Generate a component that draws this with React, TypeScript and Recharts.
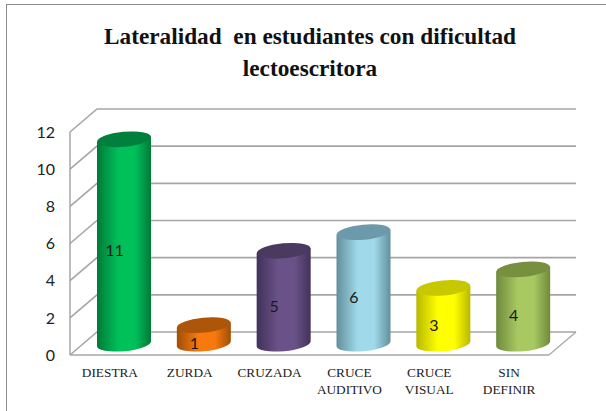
import { Bar, BarChart, CartesianGrid, LabelList, XAxis, YAxis } from 'recharts'

const CATEGORIES = ['DIESTRA', 'ZURDA', 'CRUZADA', 'CRUCE AUDITIVO', 'CRUCE VISUAL', 'SIN DEFINIR']
const VALUES = [11, 1, 5, 6, 3, 4]
const Y_TICKS = [0, 2, 4, 6, 8, 10, 12]
// edge, centre, top cap for each cylinder
const EDGE_COLORS = ['#007A38', '#A04E08', '#42325A', '#628F9C', '#B8B800', '#6E8A3C']
const MID_COLORS = ['#00C05A', '#F87A0E', '#6A5288', '#A0DAEA', '#FFFF00', '#A8C862']
const CAP_COLORS = ['#00803C', '#AD5508', '#4A3A60', '#6C9AAA', '#C8C800', '#76903F']

const rows = CATEGORIES.map((name, i) => ({ name, value: VALUES[i] }))

// the 3d depth of the walls and where the cylinders stand on the floor
const DEPTH_X = 27
const DEPTH_Y = 23
const BAR_DX = 14
const BAR_DY = -11.3
const TILT = 2.5
const WALL = '#A6A6A6'

function Cylinder({ x, y, width, height, index }: any) {
  const cx = x + BAR_DX + width / 2
  const rx = width / 2
  const ry = 7.5
  const top = y + BAR_DY
  const bottom = y + height + BAR_DY
  const left = cx - rx
  const right = cx + rx
  return (
    <g>
      <path
        d={`M${left},${top + TILT} L${left},${bottom + TILT} A${rx},${ry} -5.4 0 0 ${right},${bottom - TILT} L${right},${top - TILT} Z`}
        fill={`url(#cyl${index})`}
      />
      <ellipse cx={cx} cy={top} rx={rx} ry={ry} fill={CAP_COLORS[index]} transform={`rotate(-5.4 ${cx} ${top})`} />
    </g>
  )
}

function WallLine({ x1, y1, x2 }: any) {
  return (
    <polyline
      points={`${x1},${y1} ${x1 + DEPTH_X},${y1 - DEPTH_Y} ${x2 + DEPTH_X},${y1 - DEPTH_Y}`}
      fill="none"
      stroke={WALL}
      strokeWidth={1.6}
    />
  )
}

function FloorEdge({ x2, y1 }: any) {
  return <line x1={x2} y1={y1} x2={x2 + DEPTH_X} y2={y1 - DEPTH_Y} stroke={WALL} strokeWidth={1.2} />
}

function GridRow(props: any) {
  const isFloor = props.y1 > 350
  return (
    <g key={props.key}>
      <WallLine {...props} />
      {isFloor && <FloorEdge {...props} />}
    </g>
  )
}

function CategoryTick({ x, y, payload }: any) {
  const lines = String(payload.value).split(' ')
  return (
    <text x={x} textAnchor="middle" fontFamily="'Liberation Serif', serif" fontSize={13.3} fill="#222">
      {lines.map((line, i) => (
        <tspan key={i} x={x} y={y + 14 + i * 17}>
          {line}
        </tspan>
      ))}
    </text>
  )
}

function ValueLabel({ x, y, width, height, value }: any) {
  return (
    <text x={x + width / 2 + 4.5} y={y + height / 2 - 3} textAnchor="middle" dominantBaseline="central" fontFamily="Lato, sans-serif" fontSize={16} fill="#1a1a1a">
      {value}
    </text>
  )
}

export default function App() {
  return (
    <div style={{ position: 'absolute', left: 0, top: 0, width: 606, height: 411, background: '#fff', overflow: 'hidden' }}>
      <div style={{ position: 'absolute', left: 6, top: 4, width: 640, height: 440, border: '1.5px solid #8c8c8c' }} />
      <div
        style={{
          position: 'absolute',
          left: 0,
          top: 20,
          width: 620,
          textAlign: 'center',
          fontFamily: "'Liberation Serif', serif",
          fontWeight: 'bold',
          fontSize: 24,
          lineHeight: '32px',
          color: '#111',
          transform: 'scaleX(0.97)',
        }}
      >
        Lateralidad&nbsp; en estudiantes con dificultad
        <br />
        lectoescritora
      </div>
      <BarChart
        width={606}
        height={411}
        data={rows}
        margin={{ top: 132, right: 57, bottom: 0, left: 0 }}
        style={{ position: 'absolute', left: 0, top: 0 }}
      >
        <defs>
          {CATEGORIES.map((_, i) => (
            <linearGradient key={i} id={`cyl${i}`} x1="0" y1="0" x2="1" y2="0">
              <stop offset="0%" stopColor={EDGE_COLORS[i]} />
              <stop offset="40%" stopColor={MID_COLORS[i]} />
              <stop offset="70%" stopColor={MID_COLORS[i]} />
              <stop offset="100%" stopColor={EDGE_COLORS[i]} />
            </linearGradient>
          ))}
        </defs>
        <CartesianGrid vertical={false} horizontal={(props: any) => <GridRow {...props} />} />
        <XAxis dataKey="name" interval={0} height={56} tick={<CategoryTick />} tickLine={false} axisLine={{ stroke: WALL, strokeWidth: 1.5 }} />
        <YAxis
          width={70}
          domain={[0, 12]}
          ticks={Y_TICKS}
          interval={0}
          tickLine={false}
          tickMargin={9}
          axisLine={{ stroke: WALL, strokeWidth: 1.5 }}
          tick={{ fontFamily: 'Lato, sans-serif', fontSize: 16, fill: '#222' }}
        />
        <Bar dataKey="value" barSize={54} shape={<Cylinder />} isAnimationActive={false}>
          <LabelList dataKey="value" content={<ValueLabel />} />
        </Bar>
      </BarChart>
    </div>
  )
}
